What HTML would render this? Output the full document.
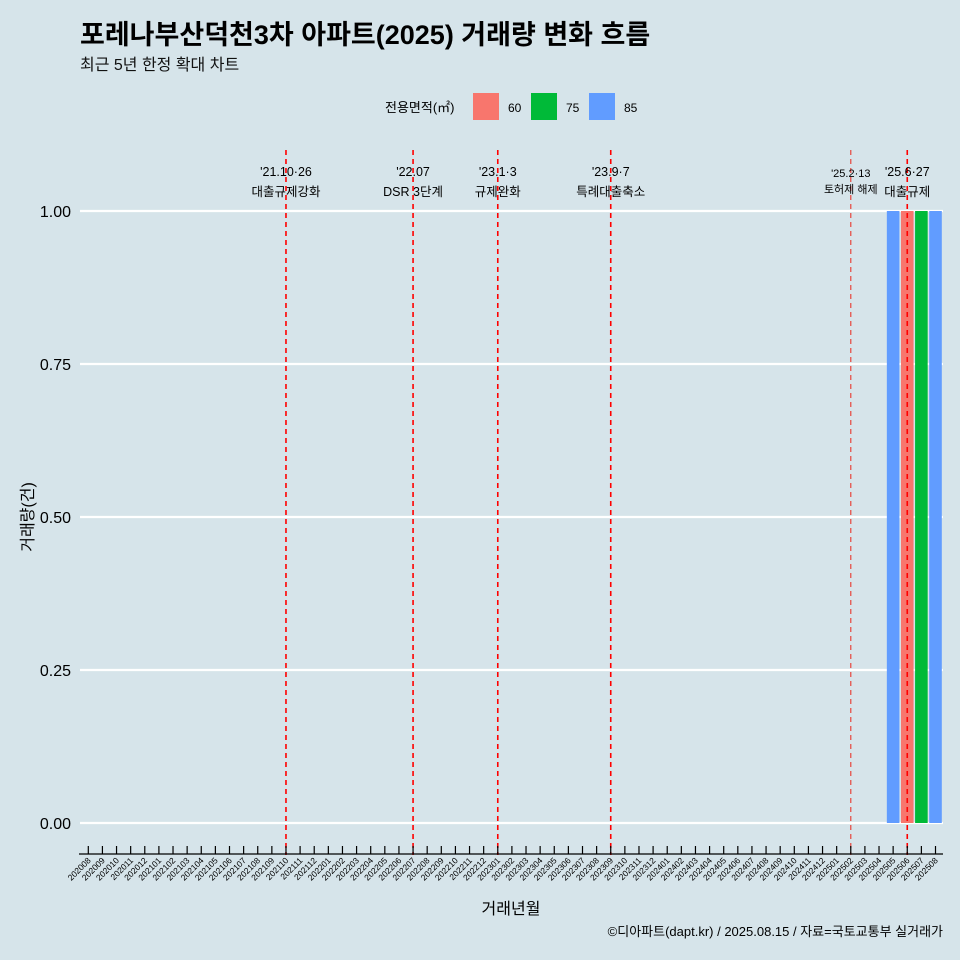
<!DOCTYPE html>
<html><head><meta charset="utf-8"><style>
html,body{margin:0;padding:0;overflow:hidden;width:960px;height:960px;background:#d6e4ea;font-family:"Liberation Sans","Noto Sans CJK KR",sans-serif}
svg{display:block}
</style></head><body>
<svg id="c" width="960" height="960" xmlns="http://www.w3.org/2000/svg" style="font-family:'Liberation Sans','Noto Sans CJK KR',sans-serif">
<rect width="960" height="960" fill="#d6e4ea"/>
<text x="80" y="44" font-size="27" font-weight="bold" fill="#000">포레나부산덕천3차 아파트(2025) 거래량 변화 흐름</text>
<text x="80" y="70" font-size="16" fill="#111">최근 5년 한정 확대 차트</text>
<g>
<text x="385" y="112" font-size="13">전용면적(㎡)</text>
<rect x="473" y="93" width="26" height="27" fill="#f8766d"/>
<text x="508" y="112" font-size="12">60</text>
<rect x="531" y="93" width="26" height="27" fill="#00ba38"/>
<text x="566" y="112" font-size="12">75</text>
<rect x="589" y="93" width="26" height="27" fill="#619cff"/>
<text x="624" y="112" font-size="12">85</text>
</g>
<g id="grid"></g><g id="bars"></g><g id="vlines"></g><g id="xaxis"></g>
<text x="0" y="0" transform="translate(33,517) rotate(-90)" text-anchor="middle" font-size="16">거래량(건)</text>
<text x="511" y="914" text-anchor="middle" font-size="16">거래년월</text>
<text x="943" y="936" text-anchor="end" font-size="13">©디아파트(dapt.kr) / 2025.08.15 / 자료=국토교통부 실거래가</text>
</svg>
<script>
const months=[];for(let y=2020,m=8;y*100+m<=202508;){months.push(''+y+(m<10?'0':'')+m);m++;if(m>12){m=1;y++;}}
const yTicks=[0,0.25,0.5,0.75,1.0];
const yTickLabels=["0.00","0.25","0.50","0.75","1.00"];
const barMonths=["202505","202506","202507","202508"];
const barAreas=["85","60","75","85"];
const barValues=[1,1,1,1];
const eventMonths=["202110","202207","202301","202309","202502","202506"];
const eventLine1=["'21.10·26","'22.07","'23.1·3","'23.9·7","'25.2·13","'25.6·27"];
const eventLine2=["대출규제강화","DSR 3단계","규제완화","특례대출축소","토허제 해제","대출규제"];
const colors={"60":"#f8766d","75":"#00ba38","85":"#619cff"};
const NS="http://www.w3.org/2000/svg";
const xs=i=>88.3+i*14.12, xm=m=>xs(months.indexOf(m));
const ys=v=>823-v*612;
function mk(t,a,p){const e=document.createElementNS(NS,t);for(const k in a)e.setAttribute(k,a[k]);p.appendChild(e);return e;}
const G=document.getElementById('grid');
yTicks.forEach((v,i)=>{
 const l=mk('line',{x1:80,x2:943,y1:ys(v),y2:ys(v),stroke:'#fff','stroke-width':2.2},G);
 
 
 const t=mk('text',{x:71,y:ys(v)+6,'text-anchor':'end','font-size':16},G);t.textContent=yTickLabels[i];
 
 
});
const B=document.getElementById('bars');
barMonths.forEach((m,i)=>{
 const r=mk('rect',{x:xm(m)-6.3,width:12.6,y:ys(barValues[i]),height:ys(0)-ys(barValues[i]),fill:colors[barAreas[i]]},B);
 
 
});
const V=document.getElementById('vlines');
eventMonths.forEach((m,i)=>{
 const x=xm(m);const small=m==="202502";
 const l=mk('line',{x1:x,x2:x,y1:150,y2:855,stroke:small?'#e8453c':'#ff0000','stroke-width':small?1.2:1.6,'stroke-dasharray':'5,4'},V);
 
 
 const fs=small?11:12.5;
 const t1=mk('text',{x:x,y:small?177:176,'text-anchor':'middle','font-size':fs},V);t1.textContent=eventLine1[i];
 
 
 const t2=mk('text',{x:x,y:small?193:196,'text-anchor':'middle','font-size':fs},V);t2.textContent=eventLine2[i];
 
 
});
const X=document.getElementById('xaxis');
const ax=mk('line',{x1:79,x2:943,y1:854,y2:854,stroke:'#000','stroke-width':1.2},X);


months.forEach((m,i)=>{
 const x=xs(i);
 const tk=mk('line',{x1:x,x2:x,y1:846,y2:854,stroke:'#000','stroke-width':1.2},X);
 
 
 const t=mk('text',{x:0,y:0,transform:`translate(${x+3},${861}) rotate(-45)`,'text-anchor':'end','font-size':8.5},X);t.textContent=m;
 
 
});
</script>
</body></html>
